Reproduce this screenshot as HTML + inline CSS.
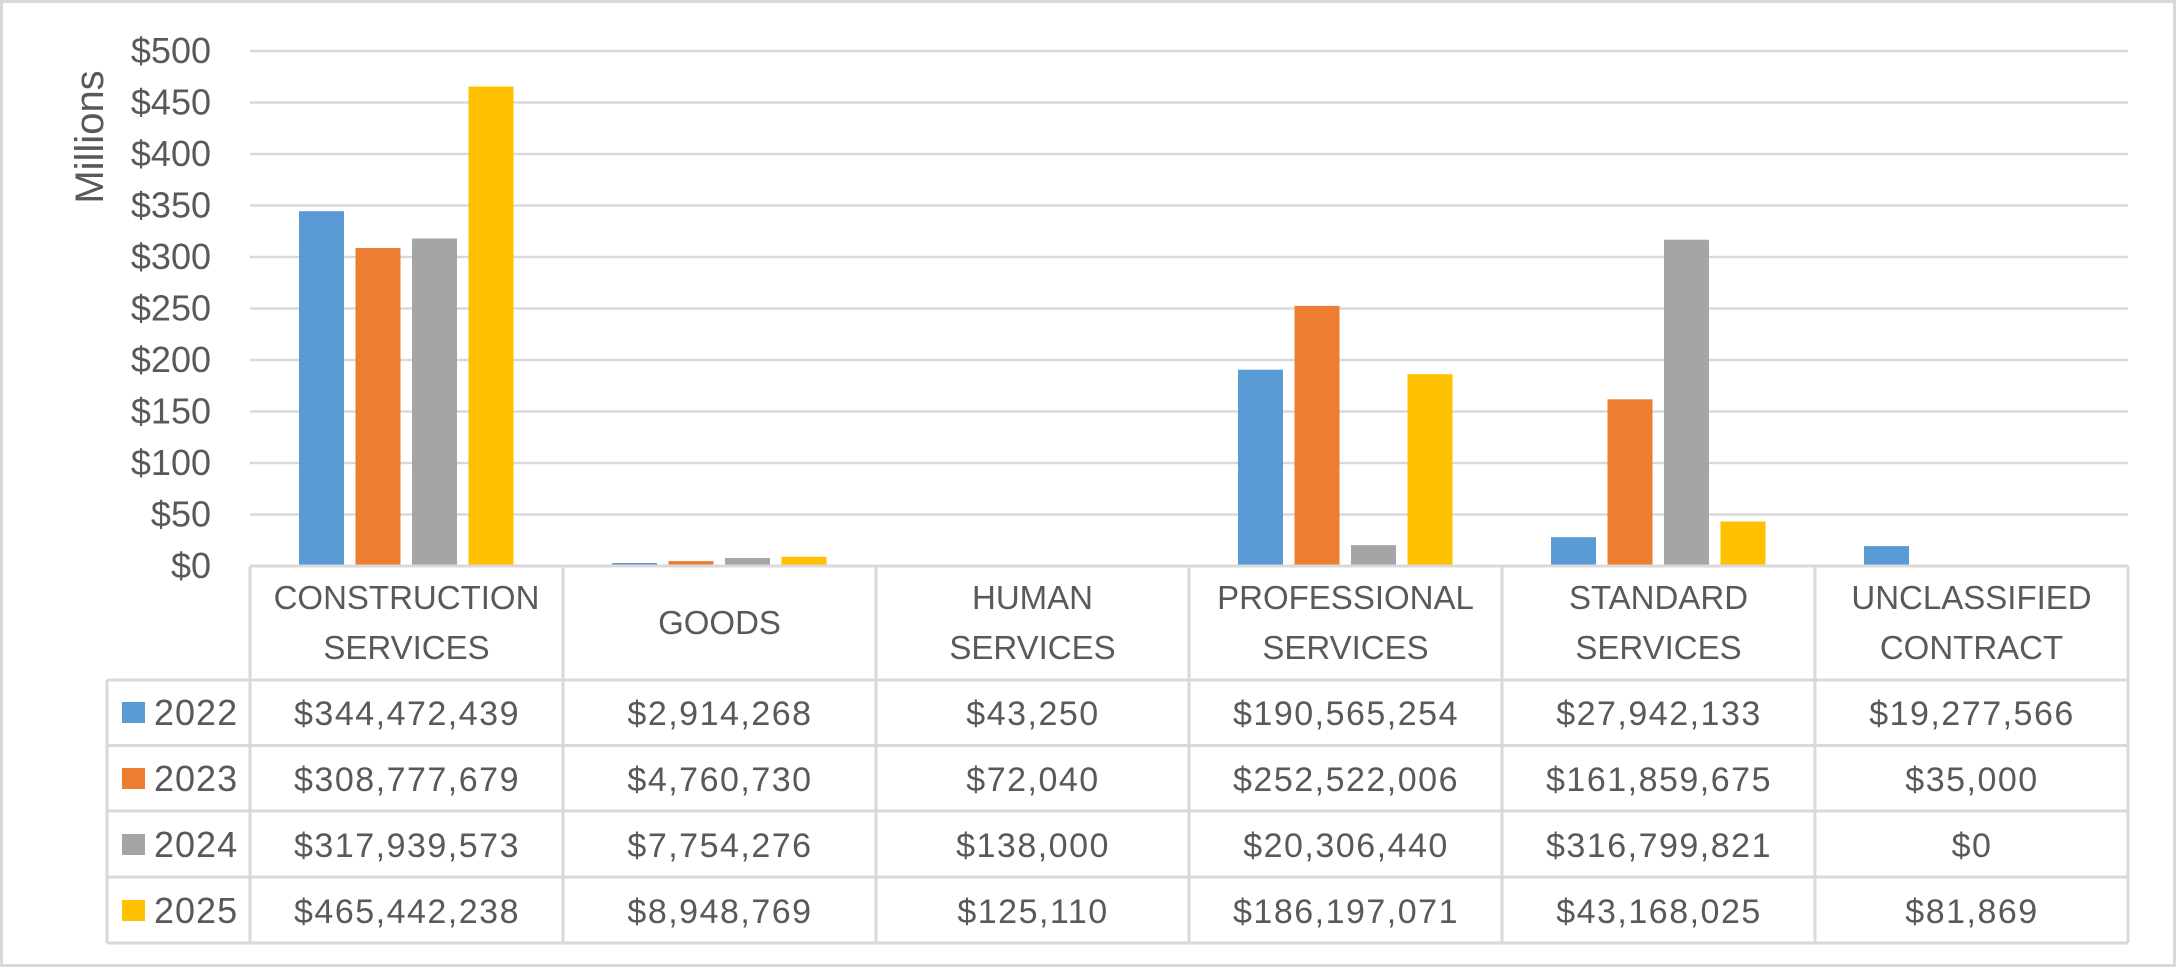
<!DOCTYPE html>
<html><head><meta charset="utf-8"><style>
html,body{margin:0;padding:0;background:#fff;}
svg{display:block;}
text{font-family:"Liberation Sans",sans-serif;fill:#595959;}
</style></head><body>
<svg width="2180" height="968" viewBox="0 0 2180 968" xmlns="http://www.w3.org/2000/svg">
<rect x="1.5" y="1.5" width="2173" height="964" fill="#fff" stroke="#d9d9d9" stroke-width="3"/>
<g stroke="#d9d9d9" stroke-width="2.5">
<line x1="250" x2="2128" y1="51" y2="51"/>
<line x1="250" x2="2128" y1="102.5" y2="102.5"/>
<line x1="250" x2="2128" y1="154" y2="154"/>
<line x1="250" x2="2128" y1="205.5" y2="205.5"/>
<line x1="250" x2="2128" y1="257" y2="257"/>
<line x1="250" x2="2128" y1="308.5" y2="308.5"/>
<line x1="250" x2="2128" y1="360" y2="360"/>
<line x1="250" x2="2128" y1="411.5" y2="411.5"/>
<line x1="250" x2="2128" y1="463" y2="463"/>
<line x1="250" x2="2128" y1="514.5" y2="514.5"/>
</g>
<g font-size="36" text-anchor="end">
<text x="211" y="63">$500</text>
<text x="211" y="114.5">$450</text>
<text x="211" y="166">$400</text>
<text x="211" y="217.5">$350</text>
<text x="211" y="269">$300</text>
<text x="211" y="320.5">$250</text>
<text x="211" y="372">$200</text>
<text x="211" y="423.5">$150</text>
<text x="211" y="475">$100</text>
<text x="211" y="526.5">$50</text>
<text x="211" y="578">$0</text>
</g>
<text x="0" y="0" font-size="40" text-anchor="middle" transform="translate(103,137) rotate(-90)">Millions</text>
<g fill="#5b9bd5">
<rect x="299" y="211.2" width="45" height="354.8"/>
<rect x="612" y="563" width="45" height="3"/>
<rect x="1238" y="369.7" width="45" height="196.3"/>
<rect x="1551" y="537.2" width="45" height="28.8"/>
<rect x="1864" y="546.1" width="45" height="19.9"/>
</g>
<g fill="#ed7d31">
<rect x="355.5" y="248" width="45" height="318"/>
<rect x="668.5" y="561.1" width="45" height="4.9"/>
<rect x="1294.5" y="305.9" width="45" height="260.1"/>
<rect x="1607.5" y="399.3" width="45" height="166.7"/>
</g>
<g fill="#a5a5a5">
<rect x="412" y="238.5" width="45" height="327.5"/>
<rect x="725" y="558" width="45" height="8"/>
<rect x="1351" y="545.1" width="45" height="20.9"/>
<rect x="1664" y="239.7" width="45" height="326.3"/>
</g>
<g fill="#ffc000">
<rect x="468.5" y="86.6" width="45" height="479.4"/>
<rect x="781.5" y="556.8" width="45" height="9.2"/>
<rect x="1407.5" y="374.2" width="45" height="191.8"/>
<rect x="1720.5" y="521.5" width="45" height="44.5"/>
</g>
<g stroke="#d9d9d9" stroke-width="3">
<line x1="250" x2="2128" y1="566" y2="566"/>
<line x1="107" x2="2128" y1="680" y2="680"/>
<line x1="107" x2="2128" y1="745.5" y2="745.5"/>
<line x1="107" x2="2128" y1="811" y2="811"/>
<line x1="107" x2="2128" y1="877" y2="877"/>
<line x1="107" x2="2128" y1="943" y2="943"/>
<line x1="107" x2="107" y1="680" y2="943"/>
<line x1="250" x2="250" y1="566" y2="943"/>
<line x1="563" x2="563" y1="566" y2="943"/>
<line x1="876" x2="876" y1="566" y2="943"/>
<line x1="1189" x2="1189" y1="566" y2="943"/>
<line x1="1502" x2="1502" y1="566" y2="943"/>
<line x1="1815" x2="1815" y1="566" y2="943"/>
<line x1="2128" x2="2128" y1="566" y2="943"/>
</g>
<g font-size="33" text-anchor="middle">
<text x="406.5" y="609">CONSTRUCTION</text><text x="406.5" y="659">SERVICES</text>
<text x="719.5" y="634">GOODS</text>
<text x="1032.5" y="609">HUMAN</text><text x="1032.5" y="659">SERVICES</text>
<text x="1345.5" y="609">PROFESSIONAL</text><text x="1345.5" y="659">SERVICES</text>
<text x="1658.5" y="609">STANDARD</text><text x="1658.5" y="659">SERVICES</text>
<text x="1971.5" y="609">UNCLASSIFIED</text><text x="1971.5" y="659">CONTRACT</text>
</g>
<rect x="122" y="702" width="23" height="21" fill="#5b9bd5"/>
<rect x="122" y="768" width="23" height="21" fill="#ed7d31"/>
<rect x="122" y="834" width="23" height="21" fill="#a5a5a5"/>
<rect x="122" y="900" width="23" height="21" fill="#ffc000"/>
<g font-size="36" letter-spacing="1">
<text x="154" y="725">2022</text>
<text x="154" y="791">2023</text>
<text x="154" y="857">2024</text>
<text x="154" y="923">2025</text>
</g>
<g font-size="34" letter-spacing="1.5" text-anchor="middle">
<text x="407" y="725">$344,472,439</text><text x="720" y="725">$2,914,268</text><text x="1033" y="725">$43,250</text><text x="1346" y="725">$190,565,254</text><text x="1659" y="725">$27,942,133</text><text x="1972" y="725">$19,277,566</text>
<text x="407" y="791">$308,777,679</text><text x="720" y="791">$4,760,730</text><text x="1033" y="791">$72,040</text><text x="1346" y="791">$252,522,006</text><text x="1659" y="791">$161,859,675</text><text x="1972" y="791">$35,000</text>
<text x="407" y="857">$317,939,573</text><text x="720" y="857">$7,754,276</text><text x="1033" y="857">$138,000</text><text x="1346" y="857">$20,306,440</text><text x="1659" y="857">$316,799,821</text><text x="1972" y="857">$0</text>
<text x="407" y="923">$465,442,238</text><text x="720" y="923">$8,948,769</text><text x="1033" y="923">$125,110</text><text x="1346" y="923">$186,197,071</text><text x="1659" y="923">$43,168,025</text><text x="1972" y="923">$81,869</text>
</g>
</svg>
</body></html>
